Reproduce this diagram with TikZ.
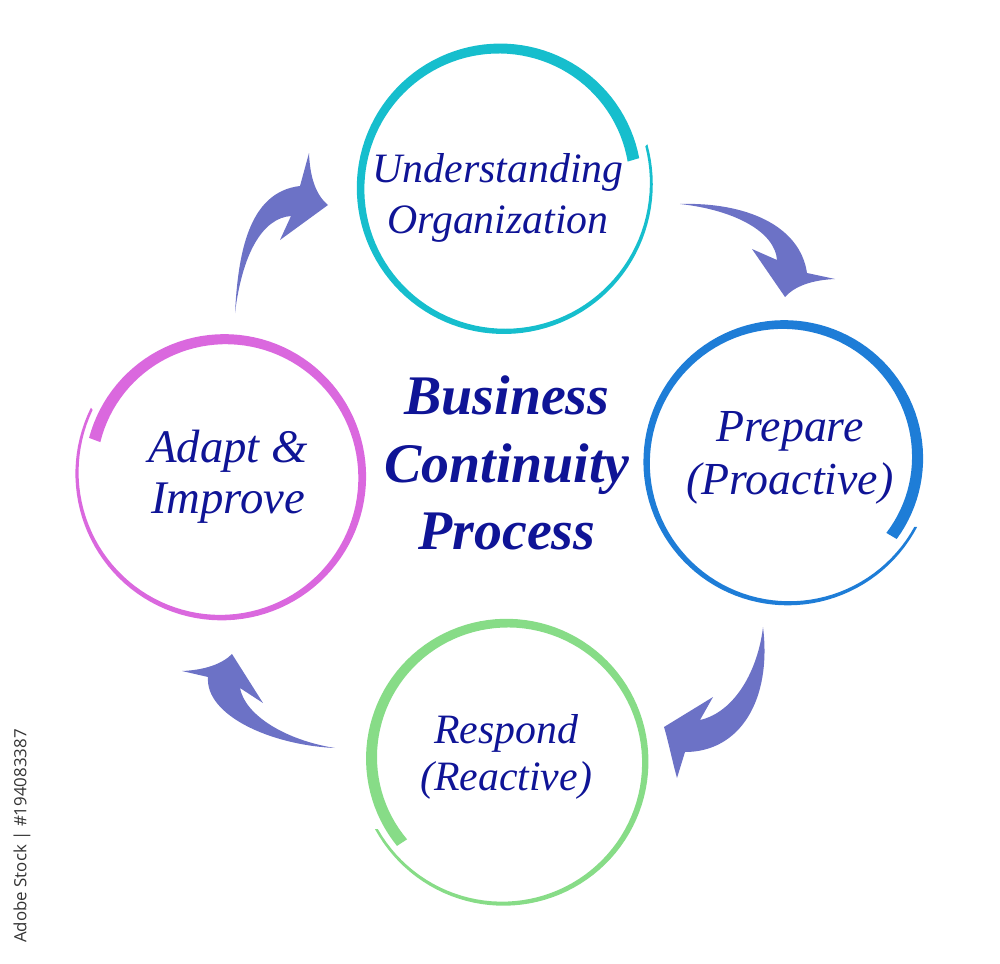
\documentclass[tikz,border=0pt]{standalone}
\usepackage{fontspec}
\setmainfont{Liberation Serif}
\newfontfamily\stockfont{Open Sans}
\definecolor{RingCyan}{RGB}{22,190,205}
\definecolor{RingBlue}{RGB}{30,125,215}
\definecolor{RingGreen}{RGB}{135,220,135}
\definecolor{RingPink}{RGB}{218,104,222}
\definecolor{ArrowPurple}{RGB}{108,114,198}
\definecolor{TextNavy}{RGB}{15,20,150}

% brush ring: centre x, centre y, start angle, sweep, start radius, end radius, start width, end width, colour
\newcommand{\brushring}[9]{%
  \fill[#9] plot[domain=0:1, samples=120, variable=\t]
    ({#1+(#5+(#6-#5)*\t+(#7+(#8-#7)*\t)/2)*cos(#3+(#4)*\t)},
     {#2+(#5+(#6-#5)*\t+(#7+(#8-#7)*\t)/2)*sin(#3+(#4)*\t)})
    -- plot[domain=1:0, samples=120, variable=\t]
    ({#1+(#5+(#6-#5)*\t-(#7+(#8-#7)*\t)/2)*cos(#3+(#4)*\t)},
     {#2+(#5+(#6-#5)*\t-(#7+(#8-#7)*\t)/2)*sin(#3+(#4)*\t)})
    -- cycle;}

\begin{document}
\begin{tikzpicture}[x=0.02cm, y=-0.02cm,
    steplabel/.style={TextNavy, align=center, font=\itshape},
    titlelabel/.style={TextNavy, align=center, font=\bfseries\itshape\fontsize{31.8}{38.5}\selectfont},
    bentarrow/.style={fill=ArrowPurple}]
    \useasboundingbox (0,0) rectangle (1000,963);

    % Rings
    \brushring{502}{186}{-16}{365}{150}{134}{2.5}{12}{RingCyan}
    \brushring{786}{460}{27}{369}{146}{130}{2.5}{12}{RingBlue}
    \brushring{505}{760}{152}{-371}{146}{132}{2.5}{12}{RingGreen}
    \brushring{223}{475}{207}{-372}{147}{133}{2.5}{12}{RingPink}

    % Labels
    \node[steplabel, font=\itshape\fontsize{23.8}{29.5}\selectfont] (understand) at (498,198) {Understanding\\Organization};
    \node[steplabel, font=\itshape\fontsize{26.1}{30}\selectfont] (prepare) at (790,458) {Prepare\\(Proactive)};
    \node[steplabel, font=\itshape\fontsize{23.8}{26.6}\selectfont] (respond) at (506,757) {Respond\\(Reactive)};
    \node[steplabel, font=\itshape\fontsize{26.6}{28.9}\selectfont] (adapt) at (228,477) {Adapt \&\\Improve};
    \node[titlelabel] (process) at (507,463) {Business\\Continuity\\Process};

    % Arrows
    \path[bentarrow] (235,313) .. controls (238,255) and (248,192) .. (300,186) -- (309,153)
        .. controls (310,178) and (316,195) .. (328,205) -- (280,240) -- (291,216)
        .. controls (262,218) and (242,255) .. (235,313) -- cycle;
    \path[bentarrow] (680,204) .. controls (745,202) and (800,225) .. (807,273) -- (835,279)
        .. controls (812,280) and (795,286) .. (785,297) -- (752,249) -- (777,260)
        .. controls (775,232) and (735,210) .. (680,204) -- cycle;
    \path[bentarrow] (763,627) .. controls (772,700) and (740,752) .. (685,752) -- (677,778)
        .. controls (672,760) and (668,740) .. (664,727) -- (713,697) -- (700,720)
        .. controls (735,712) and (758,670) .. (763,627) -- cycle;
    \path[bentarrow] (335,748) .. controls (270,745) and (205,715) .. (208,677) -- (182,671)
        .. controls (205,670) and (222,664) .. (232,654) -- (263,703) -- (240,688)
        .. controls (245,715) and (285,740) .. (335,748) -- cycle;

    % Stock mark
    \node[rotate=90, black!80, font=\stockfont\fontsize{9.6}{11}\selectfont] (stockmark) at (22,836) {Adobe Stock | \#194083387};
\end{tikzpicture}
\end{document}
